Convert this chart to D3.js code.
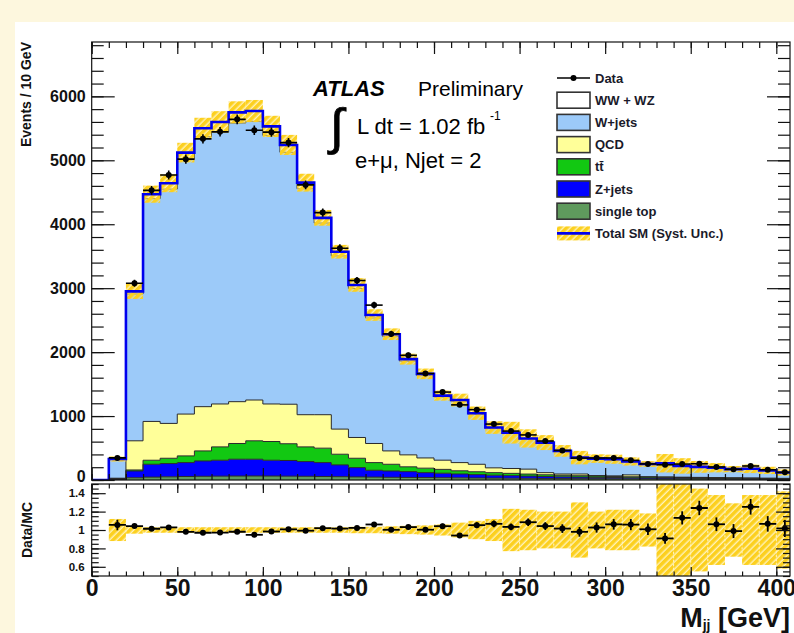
<!DOCTYPE html>
<html>
<head>
<meta charset="utf-8">
<script src="https://cdn.jsdelivr.net/npm/d3@7"></script>
<style>
  html, body { margin: 0; padding: 0; background: #fdf7de; }
  svg { display: block; }
  text { font-family: "Liberation Sans", Arial, Helvetica, sans-serif; }
</style>
</head>
<body>
<svg id="chart" width="794" height="633"></svg>
<script>
// Dijet invariant mass, e+mu channel, Njet = 2 (10 GeV bins, lower edges in GeV)
const binLow = [10,20,30,40,50,60,70,80,90,100,110,120,130,140,150,160,170,180,190,200,
                210,220,230,240,250,260,270,280,290,300,310,320,330,340,350,360,370,380,390,400];
const binWidth = 10;

// Expected events per bin, stacked bottom to top
const singleTop = [8,35,45,50,55,58,60,62,63,62,60,58,55,52,48,45,42,40,38,36,
                   34,32,30,28,26,24,22,21,20,19,18,17,16,15,14,13,12,11,10,9];
const zJets     = [10,106,201,207,217,240,249,263,262,247,245,230,217,184,146,107,99,91,77,70,
                   60,52,45,40,35,30,27,24,21,19,17,15,14,12,11,10,9,8,7,6];
const ttbar     = [4,16,63,83,105,157,209,246,288,293,262,230,226,167,146,120,105,75,70,60,
                   50,45,40,36,32,28,25,22,20,18,16,14,13,12,11,10,9,8,7,6];
const qcd       = [6,456,607,545,654,692,671,654,638,587,618,503,523,393,325,299,209,187,160,144,
                   128,117,75,76,77,33,20,27,8,8,29,6,5,5,5,5,5,5,5,5];
const wJets     = [295,2297,3484,3665,3979,4223,4261,4360,4359,4201,3940,3534,2999,2709,2330,1964,1787,1465,1288,987,
                   958,782,615,547,469,460,352,248,259,255,204,193,209,172,160,150,132,140,118,90];
const diboson   = [5,40,70,90,110,130,150,165,160,140,115,95,80,65,55,45,38,32,27,23,
                   20,17,15,13,11,10,9,8,7,6,6,5,5,4,4,4,3,3,3,2];

// Observed events per bin
const dataCounts = [346,3077,4530,4770,5018,5335,5445,5640,5470,5440,5277,4615,4182,3625,3120,2735,2285,1950,1665,1375,
                    1175,1100,875,765,705,610,462,343,344,345,307,252,238,249,254,204,168,219,160,120];

// Relative systematic uncertainty on the total expectation
const systFrac = [0.12,0.04,0.03,0.03,0.03,0.03,0.03,0.03,0.03,0.03,0.03,0.03,0.03,0.03,0.035,0.035,0.04,0.045,0.05,0.06,
                  0.08,0.10,0.12,0.23,0.22,0.20,0.20,0.30,0.20,0.22,0.22,0.18,0.55,0.55,0.45,0.38,0.29,0.38,0.38,0.42];

const xTickLabels = [0,50,100,150,200,250,300,350,400];
const yTickLabels = [0,1000,2000,3000,4000,5000,6000];
const ratioTickLabels = [0.6,0.8,1,1.2,1.4];

const layerKeys = ["singleTop","zJets","ttbar","qcd","wJets","diboson"];
const layerFill = {
  singleTop: "#5f9a5d", zJets: "#0000ff", ttbar: "#12c812",
  qcd: "#ffff99", wJets: "#9ccaf9", diboson: "#ffffff"
};
const legendEntries = [
  { label: "Data", kind: "data" },
  { label: "WW + WZ", kind: "box", key: "diboson" },
  { label: "W+jets", kind: "box", key: "wJets" },
  { label: "QCD", kind: "box", key: "qcd" },
  { label: "tt\u0304", kind: "box", key: "ttbar" },
  { label: "Z+jets", kind: "box", key: "zJets" },
  { label: "single top", kind: "box", key: "singleTop" },
  { label: "Total SM (Syst. Unc.)", kind: "total" }
];

const W = 794, H = 633;
const frame = { left: 91.7, right: 790, top: 42, bottom: 480 };
const rframe = { top: 484, bottom: 576 };

const x = d3.scaleLinear().domain([0, 408]).range([frame.left, frame.right]);
const y = d3.scaleLinear().domain([0, 6850]).range([frame.bottom, frame.top]);
const yr = d3.scaleLinear().domain([0.5, 1.5]).range([rframe.bottom, rframe.top]);

const svg = d3.select("#chart");

// page background and canvas
svg.append("rect").attr("width", W).attr("height", H).attr("fill", "#fdf7de");
svg.append("rect").attr("x", 15).attr("y", 22).attr("width", W - 15).attr("height", H - 22).attr("fill", "#ffffff");

const defs = svg.append("defs");
defs.append("clipPath").attr("id", "clipMain").append("rect")
  .attr("x", frame.left).attr("y", frame.top)
  .attr("width", frame.right - frame.left).attr("height", frame.bottom - frame.top);
defs.append("clipPath").attr("id", "clipRatio").append("rect")
  .attr("x", frame.left).attr("y", rframe.top)
  .attr("width", frame.right - frame.left).attr("height", rframe.bottom - rframe.top);
const hatch = defs.append("pattern").attr("id", "hatch")
  .attr("patternUnits", "userSpaceOnUse").attr("width", 5).attr("height", 5)
  .attr("patternTransform", "rotate(45)");
hatch.append("rect").attr("width", 5).attr("height", 5).attr("fill", "#ffe680").attr("opacity", 0.55);
hatch.append("rect").attr("width", 3.6).attr("height", 5).attr("fill", "#fcd01f");

// table for the stack
const rows = binLow.map((lo, i) => ({
  lo,
  singleTop: singleTop[i], zJets: zJets[i], ttbar: ttbar[i],
  qcd: qcd[i], wJets: wJets[i], diboson: diboson[i]
}));
const totals = rows.map(r => layerKeys.reduce((s, k) => s + r[k], 0));
const series = d3.stack().keys(layerKeys)(rows);

const main = svg.append("g").attr("clip-path", "url(#clipMain)");

function stepPoints(s) {
  const pts = s.map(d => ({ x: d.data.lo, y0: d[0], y1: d[1] }));
  const last = pts[pts.length - 1];
  pts.push({ x: last.x + binWidth, y0: last.y0, y1: last.y1 });
  return pts;
}
const area = d3.area().curve(d3.curveStepAfter)
  .x(d => x(d.x)).y0(d => y(d.y0)).y1(d => y(d.y1));
const topLine = d3.line().curve(d3.curveStepAfter)
  .x(d => x(d.x)).y(d => y(d.y1));

series.forEach(s => {
  main.append("path").attr("d", area(stepPoints(s)))
    .attr("fill", layerFill[s.key]).attr("stroke", "none");
});
series.forEach(s => {
  main.append("path").attr("d", topLine(stepPoints(s)))
    .attr("fill", "none").attr("stroke", "#2a2a2a").attr("stroke-width", 1);
});

// systematic band on the total expectation
main.append("g").selectAll("rect").data(binLow).join("rect")
  .attr("x", (lo) => x(lo))
  .attr("width", x(binWidth) - x(0))
  .attr("y", (lo, i) => y(totals[i] * (1 + systFrac[i])))
  .attr("height", (lo, i) => y(totals[i] * (1 - systFrac[i])) - y(totals[i] * (1 + systFrac[i])))
  .attr("fill", "url(#hatch)");

// total expectation outline
const totalPts = [{ x: 0, v: 0 }].concat(binLow.map((lo, i) => ({ x: lo, v: totals[i] })));
totalPts.push({ x: binLow[binLow.length - 1] + binWidth, v: totals[totals.length - 1] });
main.append("path")
  .attr("d", d3.line().curve(d3.curveStepAfter).x(d => x(d.x)).y(d => y(d.v))(totalPts))
  .attr("fill", "none").attr("stroke", "#0000ee").attr("stroke-width", 2.6);

// data points
const dataG = main.append("g");
binLow.forEach((lo, i) => {
  const n = dataCounts[i], e = Math.sqrt(n);
  const cx = x(lo + binWidth / 2), cy = y(n);
  dataG.append("line").attr("x1", x(lo)).attr("x2", x(lo + binWidth)).attr("y1", cy).attr("y2", cy)
    .attr("stroke", "#000").attr("stroke-width", 1.6);
  dataG.append("line").attr("x1", cx).attr("x2", cx).attr("y1", y(n + e)).attr("y2", y(n - e))
    .attr("stroke", "#000").attr("stroke-width", 1.6);
  dataG.append("circle").attr("cx", cx).attr("cy", cy).attr("r", 3).attr("fill", "#000");
});

// ratio panel
const ratio = svg.append("g").attr("clip-path", "url(#clipRatio)");
binLow.forEach((lo, i) => {
  const f = systFrac[i];
  ratio.append("rect").attr("x", x(lo)).attr("width", x(binWidth) - x(0))
    .attr("y", yr(1 + f)).attr("height", yr(1 - f) - yr(1 + f))
    .attr("fill", "url(#hatch)");
  if (i > 0) {
    const top = Math.max(yr(1 + Math.min(f, systFrac[i - 1])), rframe.top);
    const bot = Math.min(yr(1 - Math.min(f, systFrac[i - 1])), rframe.bottom);
    ratio.append("line").attr("x1", x(lo)).attr("x2", x(lo)).attr("y1", top).attr("y2", bot)
      .attr("stroke", "#fff3c0").attr("stroke-width", 1).attr("stroke-dasharray", "2,2");
  }
});
binLow.forEach((lo, i) => {
  const r = dataCounts[i] / totals[i];
  const e = Math.sqrt(dataCounts[i]) / totals[i];
  const cx = x(lo + binWidth / 2), cy = yr(r);
  ratio.append("line").attr("x1", x(lo)).attr("x2", x(lo + binWidth)).attr("y1", cy).attr("y2", cy)
    .attr("stroke", "#000").attr("stroke-width", 1.8);
  ratio.append("line").attr("x1", cx).attr("x2", cx).attr("y1", yr(r + e)).attr("y2", yr(r - e))
    .attr("stroke", "#000").attr("stroke-width", 1.8);
  ratio.append("circle").attr("cx", cx).attr("cy", cy).attr("r", 3).attr("fill", "#000");
});

// frames
[[frame.top, frame.bottom], [rframe.top, rframe.bottom]].forEach(([t, b]) => {
  svg.append("rect").attr("x", frame.left).attr("y", t)
    .attr("width", frame.right - frame.left).attr("height", b - t)
    .attr("fill", "none").attr("stroke", "#111").attr("stroke-width", 1.2);
});

// axes helpers
function styleAxis(g, fontSize) {
  g.select(".domain").remove();
  g.selectAll("line").attr("stroke", "#111").attr("stroke-width", 1.2);
  g.selectAll("text").attr("font-size", fontSize).attr("font-weight", "bold")
    .attr("fill", "#111").attr("font-family", "Liberation Sans, Arial, sans-serif");
}
function addAxis(axis, tx, ty, fontSize) {
  const g = svg.append("g").attr("transform", `translate(${tx},${ty})`).call(axis);
  styleAxis(g, fontSize);
  return g;
}
const xMinor = d3.range(0, 408, 10);
const yMinor = d3.range(0, 6850, 200);
const rMinor = d3.range(0.5, 1.5001, 0.05);

// main panel axes
const yAxisG = addAxis(d3.axisLeft(y).tickValues(yTickLabels).tickSize(-23).tickPadding(6).tickFormat(d3.format("d")), frame.left, 0, 16);
// the zero label sits just above the panel edge
yAxisG.selectAll(".tick").filter(d => d === 0).select("text").attr("y", -4);
addAxis(d3.axisLeft(y).tickValues(yMinor).tickSize(-12).tickFormat(""), frame.left, 0, 0);
addAxis(d3.axisRight(y).tickValues(yTickLabels).tickSize(-23).tickFormat(""), frame.right, 0, 0);
addAxis(d3.axisRight(y).tickValues(yMinor).tickSize(-12).tickFormat(""), frame.right, 0, 0);
addAxis(d3.axisTop(x).tickValues(xTickLabels).tickSize(-12).tickFormat(""), 0, frame.top, 0);
addAxis(d3.axisTop(x).tickValues(xMinor).tickSize(-6).tickFormat(""), 0, frame.top, 0);
addAxis(d3.axisBottom(x).tickValues(xTickLabels).tickSize(-12).tickFormat(""), 0, frame.bottom, 0);
addAxis(d3.axisBottom(x).tickValues(xMinor).tickSize(-6).tickFormat(""), 0, frame.bottom, 0);

// ratio panel axes
addAxis(d3.axisLeft(yr).tickValues(ratioTickLabels).tickSize(-14).tickPadding(7).tickFormat(d => String(d)), frame.left, 0, 11.5);
addAxis(d3.axisLeft(yr).tickValues(rMinor).tickSize(-7).tickFormat(""), frame.left, 0, 0);
addAxis(d3.axisRight(yr).tickValues(ratioTickLabels).tickSize(-14).tickFormat(""), frame.right, 0, 0);
addAxis(d3.axisRight(yr).tickValues(rMinor).tickSize(-7).tickFormat(""), frame.right, 0, 0);
addAxis(d3.axisBottom(x).tickValues(xTickLabels).tickSize(-9).tickPadding(4).tickFormat(d3.format("d")), 0, rframe.bottom, 23);
addAxis(d3.axisBottom(x).tickValues(xMinor).tickSize(-4.5).tickFormat(""), 0, rframe.bottom, 0);
addAxis(d3.axisTop(x).tickValues(xTickLabels).tickSize(-9).tickFormat(""), 0, rframe.top, 0);
addAxis(d3.axisTop(x).tickValues(xMinor).tickSize(-4.5).tickFormat(""), 0, rframe.top, 0);

// axis titles
svg.append("text").attr("transform", `translate(31,${frame.top}) rotate(-90)`)
  .attr("text-anchor", "end").attr("font-size", 14).attr("font-weight", "bold").attr("fill", "#111")
  .text("Events / 10 GeV");
svg.append("text").attr("transform", `translate(32,${(rframe.top + rframe.bottom) / 2}) rotate(-90)`)
  .attr("text-anchor", "middle").attr("font-size", 14).attr("font-weight", "bold").attr("fill", "#111")
  .text("Data/MC");
const xt = svg.append("text").attr("x", frame.right).attr("y", 627).attr("text-anchor", "end")
  .attr("font-size", 27).attr("font-weight", "bold").attr("fill", "#111");
xt.append("tspan").text("M");
xt.append("tspan").attr("font-size", 14).attr("dy", 3).text("jj");
xt.append("tspan").attr("dy", -3).text(" [GeV]");

// ATLAS label and luminosity
svg.append("text").attr("x", 313).attr("y", 96).attr("font-size", 22).attr("font-weight", "bold")
  .attr("font-style", "italic").attr("fill", "#000").text("ATLAS");
svg.append("text").attr("x", 418).attr("y", 96).attr("font-size", 21).attr("fill", "#000").text("Preliminary");
svg.append("text").attr("x", 330).attr("y", 144).attr("font-size", 50)
  .attr("font-family", "DejaVu Sans, sans-serif").attr("fill", "#000")
  .attr("stroke", "#000").attr("stroke-width", 0.8).text("\u222B");
svg.append("text").attr("x", 357).attr("y", 134).attr("font-size", 22).attr("fill", "#000").text("L dt = 1.02 fb");
svg.append("text").attr("x", 490).attr("y", 120).attr("font-size", 12).attr("fill", "#000").text("-1");
svg.append("text").attr("x", 355).attr("y", 168).attr("font-size", 22).attr("fill", "#000").text("e+\u03BC, Njet = 2");

// legend
const lg = svg.append("g");
const lgX = 557, lgW = 33, lgH = 16, lgY0 = 78, lgDy = 22.2;
legendEntries.forEach((e, i) => {
  const cy = lgY0 + i * lgDy;
  if (e.kind === "data") {
    lg.append("line").attr("x1", lgX).attr("x2", lgX + lgW).attr("y1", cy).attr("y2", cy)
      .attr("stroke", "#000").attr("stroke-width", 1.6);
    lg.append("circle").attr("cx", lgX + lgW / 2).attr("cy", cy).attr("r", 3).attr("fill", "#000");
  } else if (e.kind === "box") {
    lg.append("rect").attr("x", lgX).attr("y", cy - lgH / 2).attr("width", lgW).attr("height", lgH)
      .attr("fill", layerFill[e.key]).attr("stroke", "#333").attr("stroke-width", 1.6);
  } else {
    lg.append("rect").attr("x", lgX).attr("y", cy - 7).attr("width", lgW).attr("height", 14)
      .attr("fill", "url(#hatch)");
    lg.append("line").attr("x1", lgX).attr("x2", lgX + lgW).attr("y1", cy).attr("y2", cy)
      .attr("stroke", "#0000ee").attr("stroke-width", 2.6);
  }
  lg.append("text").attr("x", 595).attr("y", cy + 4.5).attr("font-size", 13).attr("font-weight", "bold")
    .attr("fill", "#1a1a2a").text(e.label);
});
</script>
</body>
</html>
